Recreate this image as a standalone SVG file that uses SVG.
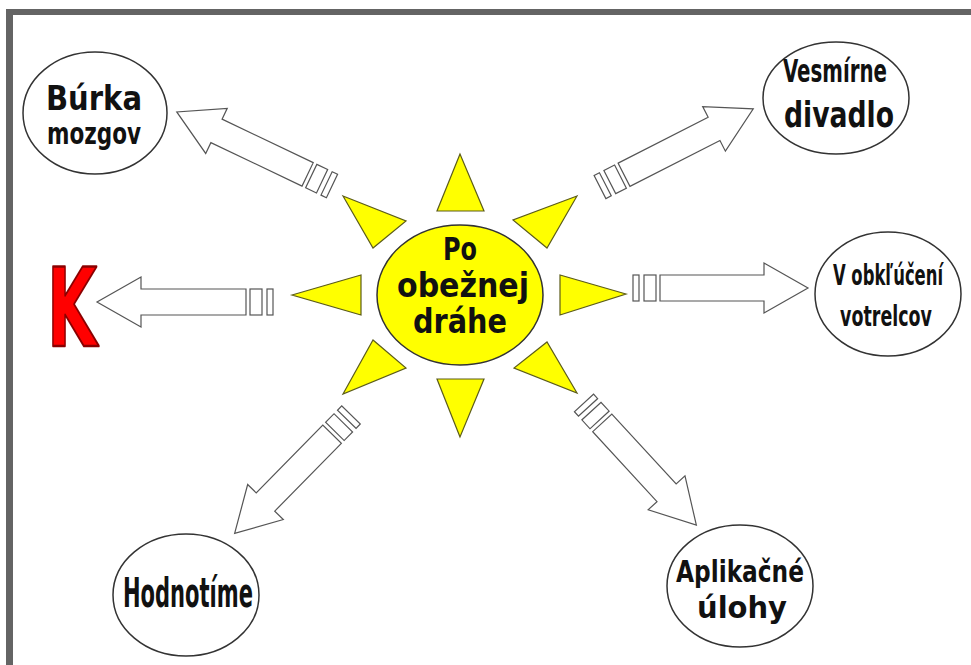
<svg xmlns="http://www.w3.org/2000/svg" width="971" height="665" viewBox="0 0 971 665">
<style>
.node{fill:#fff;stroke:#333;stroke-width:1.5}
.ray{fill:#ffff00;stroke:#5c5c1a;stroke-width:1.2;stroke-linejoin:miter}
.lbl{font-family:"DejaVu Sans Condensed","DejaVu Sans",sans-serif;font-weight:bold;fill:#111;text-anchor:middle}
.arr{fill:#fff;stroke:#555;stroke-width:1.2;stroke-linejoin:miter}
</style>
<defs>
<g id="stripes">
<rect class="arr" x="0" y="-13" width="6" height="26"/>
<rect class="arr" x="11" y="-13" width="12" height="26"/>
</g>
</defs>
<rect width="971" height="665" fill="#fff"/>
<g id="frame">
<rect x="6" y="9" width="965" height="6" fill="#646464"/>
<rect x="6" y="9" width="7" height="656" fill="#646464"/>
</g>
<g id="connectors">
<g transform="translate(273,302) rotate(180)"><use href="#stripes"/><polygon class="arr" points="27,-13 132,-13 132,-25 176,0 132,25 132,13 27,13"/></g>
<g transform="translate(633,288)"><use href="#stripes"/><polygon class="arr" points="27,-13 131,-13 131,-25 175,0 131,25 131,13 27,13"/></g>
<g transform="translate(332,186) rotate(205.5)"><use href="#stripes"/><polygon class="arr" points="27,-13 128,-13 128,-25 172,0 128,25 128,13 27,13"/></g>
<g transform="translate(600,187) rotate(-27)"><use href="#stripes"/><polygon class="arr" points="27,-13 128,-13 128,-25 172,0 128,25 128,13 27,13"/></g>
<g transform="translate(351,415) rotate(134.5)"><use href="#stripes"/><polygon class="arr" points="27,-13 122,-13 122,-25 166,0 122,25 122,13 27,13"/></g>
<g transform="translate(584,403) rotate(47.4)"><use href="#stripes"/><polygon class="arr" points="27,-13 122,-13 122,-25 166,0 122,25 122,13 27,13"/></g>
</g>
<g id="sun">
<polygon class="ray" points="460,154 437,211 484,211"/>
<polygon class="ray" points="460,437 437,379 484,379"/>
<polygon class="ray" points="292,295 361,275 361,315"/>
<polygon class="ray" points="626,294 560,275 560,315"/>
<polygon class="ray" points="343,196 406,221 373,248"/>
<polygon class="ray" points="577,196 513,220 547,248"/>
<polygon class="ray" points="343,394 373,340 406,368"/>
<polygon class="ray" points="577,393 547,342 514,368"/>
<ellipse cx="460" cy="295" rx="83" ry="70" fill="#ffff00" stroke="#333" stroke-width="1.5"/>
<text class="lbl" font-size="32" x="460" y="260" textLength="34" lengthAdjust="spacingAndGlyphs">Po</text>
<text class="lbl" font-size="33" x="463" y="297" textLength="132" lengthAdjust="spacingAndGlyphs">obežnej</text>
<text class="lbl" font-size="33" x="460" y="333" textLength="94" lengthAdjust="spacingAndGlyphs">dráhe</text>
</g>
<g id="burka">
<ellipse class="node" cx="95" cy="113" rx="72" ry="61"/>
<text class="lbl" font-size="34" x="94" y="110" textLength="96" lengthAdjust="spacingAndGlyphs">Búrka</text>
<text class="lbl" font-size="30" x="94" y="144" textLength="94" lengthAdjust="spacingAndGlyphs">mozgov</text>
</g>
<g id="vesmirne">
<ellipse class="node" cx="836" cy="98" rx="73" ry="56"/>
<text class="lbl" font-size="32" x="835" y="82" textLength="104" lengthAdjust="spacingAndGlyphs">Vesmírne</text>
<text class="lbl" font-size="35" x="839" y="127" textLength="110" lengthAdjust="spacingAndGlyphs">divadlo</text>
</g>
<g id="k">
<text font-family="DejaVu Sans, sans-serif" font-weight="bold" font-size="108" x="72" y="346" text-anchor="middle" textLength="50" lengthAdjust="spacingAndGlyphs" fill="#ff0000" stroke="#8a0000" stroke-width="2.5" stroke-linejoin="round">K</text>
</g>
<g id="obkluceni">
<ellipse class="node" cx="888" cy="294" rx="73" ry="62"/>
<text class="lbl" font-size="29" transform="translate(888,285) scale(0.68,1)" x="0" y="0" textLength="162" lengthAdjust="spacingAndGlyphs">V obkľúčení</text>
<text class="lbl" font-size="29" transform="translate(886,326) scale(0.68,1)" x="0" y="0" textLength="135" lengthAdjust="spacingAndGlyphs">votrelcov</text>
</g>
<g id="hodnotime">
<ellipse class="node" cx="186" cy="595" rx="73" ry="61"/>
<text class="lbl" font-size="40" x="188" y="607" textLength="130" lengthAdjust="spacingAndGlyphs">Hodnotíme</text>
</g>
<g id="aplikacne">
<ellipse class="node" cx="740" cy="586" rx="73" ry="61"/>
<text class="lbl" font-size="31" x="740" y="582" textLength="128" lengthAdjust="spacingAndGlyphs">Aplikačné</text>
<text class="lbl" font-size="31" x="742" y="618" textLength="90" lengthAdjust="spacingAndGlyphs">úlohy</text>
</g>
</svg>
